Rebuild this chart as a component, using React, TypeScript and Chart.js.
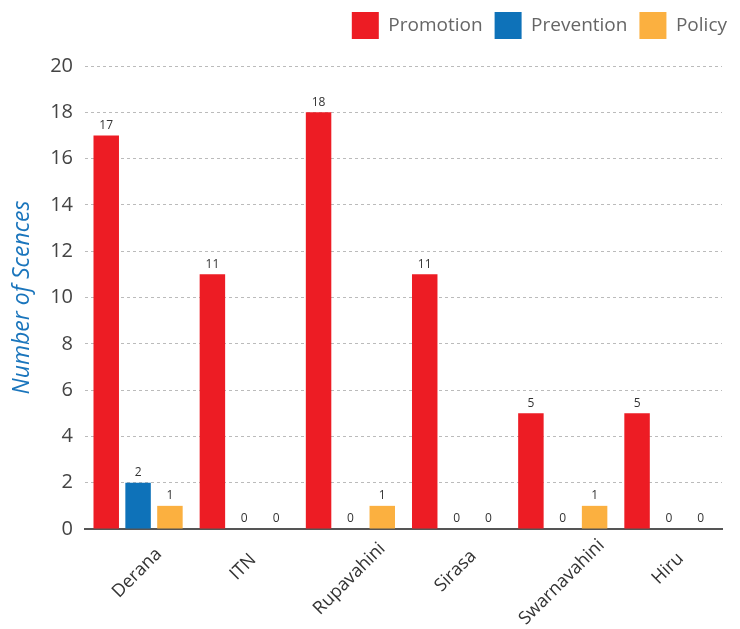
import React, { useEffect, useRef } from "react";
import { Chart, registerables } from "chart.js";

Chart.register(...registerables);

const categories = ["Derana", "ITN", "Rupavahini", "Sirasa", "Swarnavahini", "Hiru"];
const promotion = [17, 11, 18, 11, 5, 5];
const prevention = [2, 0, 0, 0, 0, 0];
const policy = [1, 0, 1, 0, 1, 0];
const yTicks = [0, 2, 4, 6, 8, 10, 12, 14, 16, 18, 20];

const FONT = "'Open Sans', 'Noto Sans', sans-serif";

const valueLabels = {
  id: "valueLabels",
  afterDatasetsDraw(chart: any) {
    const ctx = chart.ctx;
    ctx.save();
    ctx.font = `12px ${FONT}`;
    ctx.fillStyle = "#333";
    ctx.textAlign = "center";
    ctx.textBaseline = "bottom";
    chart.data.datasets.forEach((ds: any, i: number) => {
      const meta = chart.getDatasetMeta(i);
      meta.data.forEach((bar: any, j: number) => {
        ctx.fillText(String(ds.data[j]), bar.x, bar.y - 4);
      });
    });
    ctx.restore();
  },
};

// Category labels centred on each category, rotated 45 degrees
const categoryLabels = {
  id: "categoryLabels",
  afterDraw(chart: any) {
    const ctx = chart.ctx;
    const scale = chart.scales.x;
    ctx.save();
    ctx.font = `18px ${FONT}`;
    ctx.fillStyle = "#333";
    ctx.textAlign = "center";
    ctx.textBaseline = "middle";
    (chart.data.labels as string[]).forEach((lab, i) => {
      const w = ctx.measureText(lab).width;
      const x = scale.getPixelForTick(i) - 1;
      const y = scale.top + 33 + 0.18 * w;
      ctx.save();
      ctx.translate(x, y);
      ctx.rotate(-Math.PI / 4);
      ctx.fillText(lab, 0, 0);
      ctx.restore();
    });
    ctx.restore();
  },
};

// Extra room under the legend
const legendSpace = {
  id: "legendSpace",
  beforeLayout(chart: any) {
    const lg = chart.legend;
    if (lg && !lg.__patched) {
      const orig = lg.fit;
      lg.fit = function (this: any) {
        orig.call(this);
        this.height += 17;
      };
      lg.__patched = true;
    }
  },
};

export default function App() {
  const ref = useRef<HTMLCanvasElement | null>(null);
  useEffect(() => {
    if (!ref.current) return;
    const chart = new Chart(ref.current, {
      type: "bar",
      data: {
        labels: categories,
        datasets: [
          { label: "Promotion", data: promotion, backgroundColor: "#ED1C24" },
          { label: "Prevention", data: prevention, backgroundColor: "#0E72B9" },
          { label: "Policy", data: policy, backgroundColor: "#FBB040" },
        ],
      },
      options: {
        animation: false,
        responsive: false,
        maintainAspectRatio: false,
        layout: { padding: { top: 0, right: 1, left: 0, bottom: 0 } },
        datasets: { bar: { categoryPercentage: 0.9, barPercentage: 0.8 } },
        plugins: {
          tooltip: { enabled: false },
          legend: {
            position: "top",
            align: "end",
            labels: {
              boxWidth: 27,
              boxHeight: 27,
              padding: 12,
              color: "#666",
              font: { family: FONT, size: 19 },
            },
          },
        },
        scales: {
          x: {
            grid: { display: false },
            border: { display: true, color: "#555", width: 2 },
            ticks: { display: false },
            afterFit(scale: any) {
              scale.height = 100;
            },
          },
          y: {
            min: 0,
            max: 20,
            afterBuildTicks(scale: any) {
              scale.ticks = yTicks.map((v) => ({ value: v }));
            },
            border: { display: false, dash: [3, 3] },
            grid: {
              color: (c: any) => (c.tick && c.tick.value === 0 ? "rgba(0,0,0,0)" : "#bbb"),
              drawTicks: false,
              lineWidth: 1,
            },
            ticks: {
              color: "#444",
              font: { family: FONT, size: 20 },
              padding: 12,
            },
            title: {
              display: true,
              text: "Number of Scences",
              color: "#1A75BC",
              font: { family: FONT, size: 23, style: "italic" },
              padding: { top: 9, bottom: 6 },
            },
            afterFit(scale: any) {
              scale.width = 85;
            },
          },
          yRight: {
            position: "right",
            display: true,
            grid: { display: false },
            border: { display: false },
            ticks: { display: false },
            afterFit(scale: any) {
              scale.width = 17;
            },
          },
        },
      },
      plugins: [valueLabels, categoryLabels, legendSpace],
    });
    return () => chart.destroy();
  }, []);
  return (
    <div style={{ position: "fixed", left: 0, top: 0, width: 740, height: 629 }}>
      <canvas ref={ref} width={740} height={629} />
    </div>
  );
}
